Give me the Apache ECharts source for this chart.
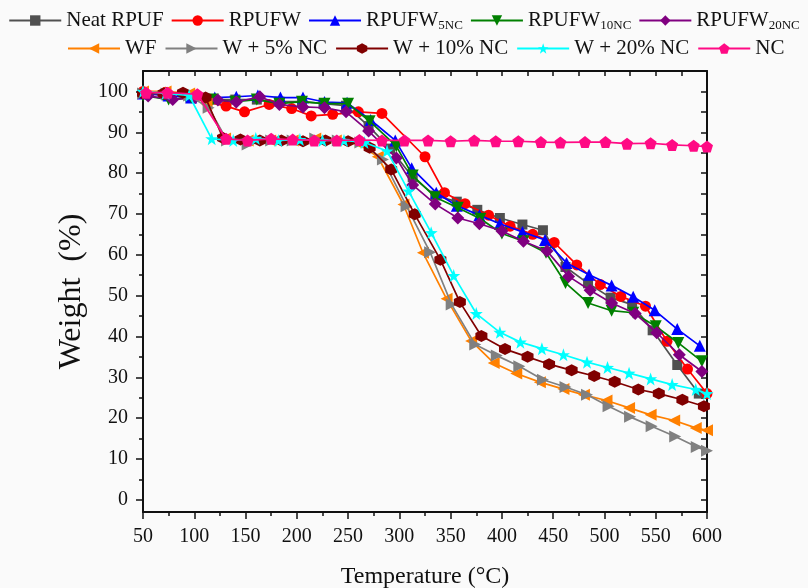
<!DOCTYPE html>
<html>
<head>
<meta charset="utf-8">
<script src="https://cdn.jsdelivr.net/npm/echarts@6/dist/echarts.min.js"></script>
<style>
  html, body { margin: 0; padding: 0; background: #fafafa; }
  #chart { width: 808px; height: 588px; }
</style>
</head>
<body>
<div id="chart"></div>
<script>
'use strict';

// temperature (°C) / weight (%), one pair of arrays per curve
const neatT = [50, 73, 96, 118, 140, 161, 183, 205, 226, 248, 270, 291, 313, 335, 356, 376, 398, 420, 440, 462, 484, 506, 527, 547, 571, 592];
const neatW = [99.5, 99, 98.5, 98, 98, 98, 97.5, 97.5, 97, 96.5, 91.5, 86, 79, 74.5, 73, 71, 69, 67.4, 66, 57, 53, 49.5, 47.8, 41.5, 33, 26];

const rpufwT = [50, 72, 94, 112, 131, 149, 173, 195, 214, 235, 260, 283, 325, 344, 364, 387, 408, 430, 451, 473, 496, 516, 540, 561, 581, 600];
const rpufwW = [100, 99.8, 99, 97.5, 96.4, 95, 96.8, 95.8, 94, 94.4, 95, 94.6, 84, 75.2, 72.5, 69.7, 67, 65, 63, 57.5, 52.7, 49.8, 47.4, 38.8, 32, 26];

const w5T = [50, 75, 97, 120, 141, 162, 184, 206, 227, 249, 272, 296, 312, 336, 356, 378, 398, 420, 442, 463, 485, 507, 528, 549, 571, 593];
const w5W = [99.5, 99, 98.5, 98.5, 98.7, 99, 98.5, 98.5, 97.4, 97.2, 93, 88, 81.2, 75.2, 72, 69.7, 67.6, 65.6, 63.6, 58, 55.1, 52.5, 49.7, 46.4, 41.8, 37.7];

const w10T = [50, 75, 97, 118, 140, 161, 183, 205, 227, 250, 271, 297, 313, 335, 357, 379, 400, 421, 443, 462, 484, 507, 528, 550, 572, 595];
const w10W = [99, 98, 98.5, 98, 97.5, 98, 97, 97.5, 97, 97, 92.7, 86.6, 79.4, 74.1, 71.5, 68.8, 65.2, 63.3, 60.5, 53.1, 48.2, 46.3, 45.8, 42.5, 38.4, 33.9];

const w20T = [55, 79, 101, 123, 141, 164, 183, 206, 227, 248, 270, 297, 313, 335, 357, 378, 400, 421, 444, 465, 486, 507, 530, 551, 573, 595];
const w20W = [98.9, 98, 98.5, 97.9, 97.4, 98.7, 96.8, 96.2, 96, 95, 90.3, 83.7, 77.1, 72.4, 69, 67.6, 65.8, 63.3, 60.9, 54.7, 51.3, 48.2, 45.6, 40.9, 35.5, 31.4];

const wfT = [50, 72, 95, 112, 130, 152, 174, 196, 218, 238, 258, 279, 304, 323, 346, 370, 392, 414, 437, 460, 480, 502, 524, 545, 568, 589, 600];
const wfW = [100, 100, 99.5, 97, 88.5, 88, 88, 88, 88.5, 88, 87.5, 84, 72.3, 60.5, 49.2, 38.9, 33.5, 30.9, 28.8, 27.1, 25.7, 24.3, 22.5, 20.8, 19.4, 17.6, 17];

const nc5T = [50, 73, 95, 114, 132, 152, 175, 196, 218, 240, 262, 284, 307, 330, 351, 374, 395, 417, 440, 462, 483, 504, 525, 546, 569, 590, 600];
const nc5W = [99.5, 99.5, 99, 96, 88, 87, 88, 88, 88.5, 88, 87.5, 83.3, 71.9, 60.6, 47.8, 38, 35.3, 32.7, 29.4, 27.6, 25.7, 22.9, 20.3, 18, 15.5, 12.9, 12];

const nc10T = [50, 70, 89, 111, 128, 145, 164, 185, 206, 228, 250, 271, 292, 315, 340, 359, 380, 403, 425, 446, 468, 490, 510, 533, 553, 576, 597];
const nc10W = [99.5, 99.5, 99.7, 98.5, 88.6, 88.2, 88, 88, 87.8, 88, 87.8, 86.2, 80.9, 69.9, 58.8, 48.4, 40.1, 36.9, 35, 33.2, 31.7, 30.3, 28.9, 27, 26, 24.5, 22.9];

const nc20T = [50, 72, 95, 117, 138, 160, 182, 203, 225, 246, 266, 288, 309, 331, 353, 375, 398, 418, 439, 460, 483, 503, 524, 545, 566, 589, 600];
const nc20W = [100, 99.5, 99, 88.4, 88, 88.5, 88, 88.2, 88, 88, 87.5, 85.4, 75.6, 65.4, 54.9, 45.6, 41, 38.6, 37, 35.5, 33.7, 32.4, 31, 29.6, 28.2, 27, 26];

const ncT = [53, 74, 103, 131, 152, 175, 196, 217, 239, 261, 283, 305, 328, 350, 373, 394, 416, 438, 457, 481, 501, 522, 545, 566, 587, 600];
const ncW = [99.7, 99.7, 99.3, 88.4, 88, 88.4, 88.2, 88, 88, 88.1, 88, 88, 88, 87.8, 88, 87.8, 87.8, 87.6, 87.5, 87.6, 87.6, 87.2, 87.3, 86.9, 86.7, 86.5];

const seriesNames = ['Neat RPUF', 'RPUFW', 'RPUFW5NC', 'RPUFW10NC', 'RPUFW20NC',
    'WF', 'W + 5% NC', 'W + 10% NC', 'W + 20% NC', 'NC'];

const yLabels = [0, 10, 20, 30, 40, 50, 60, 70, 80, 90, 100];
const yMinor = [5, 15, 25, 35, 45, 55, 65, 75, 85, 95];

window.addEventListener('load', () => {

    const serif = 'Liberation Serif';

    // 标记形状
    const hexagon = 'path://M0,-10 L8.66,-5 L8.66,5 L0,10 L-8.66,5 L-8.66,-5Z';
    const pentagon = 'path://M0,-10 L9.51,-3.09 L5.88,8.09 L-5.88,8.09 L-9.51,-3.09Z';
    const star = 'path://M0,-10 L2.35,-3.24 L9.51,-3.09 L3.8,1.24 L5.88,8.09 L0,4 L-5.88,8.09 L-3.8,1.24 L-9.51,-3.09 L-2.35,-3.24Z';

    const curves = [
        { t: neatT, w: neatW, color: '#505050', symbol: 'rect', size: 10, rot: 0 },
        { t: rpufwT, w: rpufwW, color: '#ff0000', symbol: 'circle', size: 11, rot: 0 },
        { t: w5T, w: w5W, color: '#0000ff', symbol: 'triangle', size: 12, rot: 0 },
        { t: w10T, w: w10W, color: '#008000', symbol: 'triangle', size: 12, rot: 180 },
        { t: w20T, w: w20W, color: '#800080', symbol: 'diamond', size: 13, rot: 0 },
        { t: wfT, w: wfW, color: '#ff8000', symbol: 'triangle', size: 12, rot: 90 },
        { t: nc5T, w: nc5W, color: '#808080', symbol: 'triangle', size: 12, rot: -90 },
        { t: nc10T, w: nc10W, color: '#800000', symbol: hexagon, size: 12, rot: 0 },
        { t: nc20T, w: nc20W, color: '#00ffff', symbol: star, size: 13, rot: 0 },
        { t: ncT, w: ncW, color: '#ff0a84', symbol: pentagon, size: 12, rot: 0 }
    ];

    const series = curves.map((c, i) => ({
        name: seriesNames[i],
        type: 'line',
        xAxisIndex: 0,
        yAxisIndex: 0,
        data: c.t.map((t, k) => [t, c.w[k]]),
        symbol: c.symbol,
        symbolSize: c.size,
        symbolRotate: c.rot,
        showSymbol: true,
        lineStyle: { color: c.color, width: 1.7 },
        itemStyle: { color: c.color },
        z: 2 + i
    }));

    // 下标用 rich 文本
    const legendText = {
        fontFamily: serif,
        fontSize: 21,
        color: '#111',
        rich: {
            n: { fontFamily: serif, fontSize: 21, color: '#111' },
            s: { fontFamily: serif, fontSize: 13, color: '#111', padding: [10, 0, 0, 0] }
        }
    };
    const subFormat = (name) => {
        const m = name.match(/^RPUFW(\d+NC)$/);
        return m ? '{n|RPUFW}{s|' + m[1] + '}' : '{n|' + name + '}';
    };

    const tickStyle = { color: '#111', width: 1.5 };
    const lineStyle = { color: '#111', width: 2 };

    const option = {
        animation: false,
        backgroundColor: '#fafafa',
        grid: { left: 143, right: 101, top: 71, bottom: 76, containLabel: false, outerBoundsMode: 'none' },
        legend: [
            {
                data: seriesNames.slice(0, 5),
                top: 5, left: 'center',
                itemWidth: 52, itemHeight: 13, itemGap: 7,
                formatter: subFormat,
                textStyle: legendText
            },
            {
                data: seriesNames.slice(5),
                top: 33, left: 62,
                itemWidth: 52, itemHeight: 13, itemGap: 8,
                textStyle: legendText
            }
        ],
        xAxis: [
            {
                type: 'value', position: 'bottom',
                min: 50, max: 600, interval: 50,
                name: 'Temperature (°C)',
                nameLocation: 'middle', nameGap: 53,
                nameTextStyle: { fontFamily: serif, fontSize: 24, color: '#111' },
                axisLine: { show: true, onZero: false, lineStyle: lineStyle },
                axisTick: { show: true, inside: false, length: 7, lineStyle: tickStyle },
                minorTick: { show: true, splitNumber: 2, length: 4, lineStyle: tickStyle },
                axisLabel: { margin: 15, fontFamily: serif, fontSize: 20, color: '#111' },
                splitLine: { show: false }
            },
            {
                type: 'value', position: 'top',
                min: 50, max: 600, interval: 25,
                axisLine: { show: true, onZero: false, lineStyle: lineStyle },
                axisTick: { show: true, inside: true, length: 5, lineStyle: tickStyle },
                axisLabel: { show: false },
                splitLine: { show: false }
            }
        ],
        yAxis: [
            {
                type: 'value', position: 'left',
                min: -3, max: 105,
                name: 'Weight  (%)',
                nameLocation: 'middle', nameGap: 52, nameRotate: 90,
                nameTextStyle: { fontFamily: serif, fontSize: 32, color: '#111' },
                axisLine: { show: true, onZero: false, lineStyle: lineStyle },
                axisTick: { show: true, inside: false, length: 7, customValues: yLabels, lineStyle: tickStyle },
                axisLabel: { margin: 15, customValues: yLabels, fontFamily: serif, fontSize: 20, color: '#111' },
                splitLine: { show: false }
            },
            {
                type: 'value', position: 'left',
                min: -3, max: 105,
                axisLine: { show: false },
                axisTick: { show: true, inside: false, length: 4, customValues: yMinor, lineStyle: tickStyle },
                axisLabel: { show: false },
                splitLine: { show: false }
            },
            {
                type: 'value', position: 'right',
                min: -3, max: 105,
                axisLine: { show: true, onZero: false, lineStyle: lineStyle },
                axisTick: { show: true, inside: true, length: 6, customValues: yLabels.concat(yMinor), lineStyle: tickStyle },
                axisLabel: { show: false },
                splitLine: { show: false }
            }
        ],
        series: series
    };

    const chart = echarts.init(document.getElementById('chart'), null, { renderer: 'canvas' });
    chart.setOption(option);
});
</script>
</body>
</html>
